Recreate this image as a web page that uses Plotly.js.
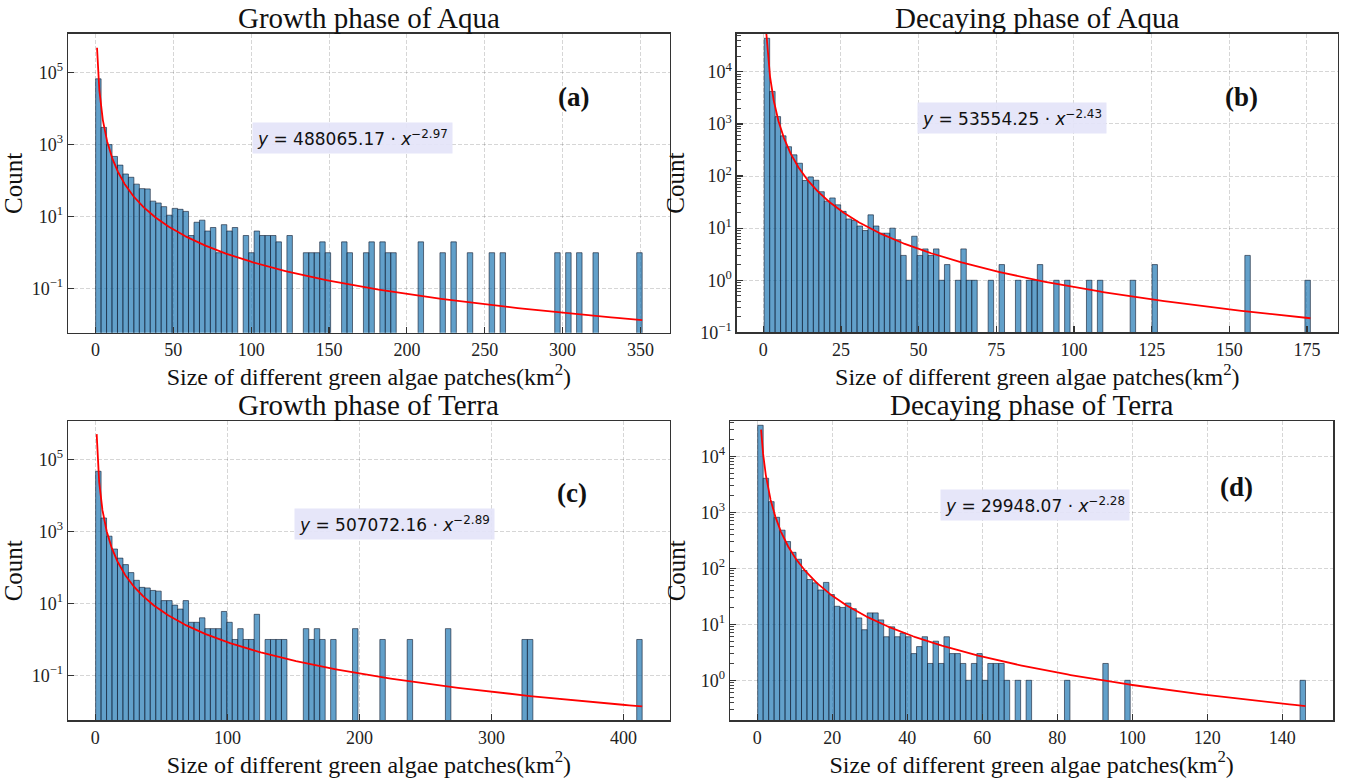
<!DOCTYPE html>
<html>
<head>
<meta charset="utf-8">
<script src="https://cdn.plot.ly/plotly-3.0.1.min.js"></script>
<style>
html,body{margin:0;padding:0;background:#fff;}
#chart{width:1346px;height:778px;}
</style>
</head>
<body>
<div id="chart"></div>
<script>
// ---------------- DATA ----------------
const panelTitles = ["Growth phase of Aqua", "Decaying phase of Aqua", "Growth phase of Terra", "Decaying phase of Terra"];
const panelLetters = ["(a)", "(b)", "(c)", "(d)"];
const xAxisLabel = "Size of different green algae patches(km<sup>2</sup>)";
const yAxisLabel = "Count";

// histogram bins (100 bins each): first edge and bin width, km²
const binStarts = [0.1, 0.3, 0.2, 0.1];
const binWidths = [3.51, 1.758, 4.14, 1.461];

// counts per bin
const countsA = [
  67000, 3000, 1000, 470, 270, 153, 124, 80, 60, 59,
  27, 24, 19, 11, 17, 16, 14, 3, 7, 8,
  4, 5, 1, 6, 4, 5, 0, 3, 1, 4,
  3, 3, 3, 2, 0, 3, 0, 0, 1, 1,
  1, 2, 1, 0, 0, 2, 1, 0, 0, 1,
  2, 0, 2, 1, 1, 0, 0, 0, 0, 2,
  0, 0, 0, 1, 0, 2, 0, 0, 1, 0,
  0, 0, 1, 0, 1, 0, 0, 0, 0, 0,
  0, 0, 0, 0, 1, 0, 1, 0, 1, 0,
  0, 1, 0, 0, 0, 0, 0, 0, 0, 1
];
const countsB = [
  44000, 4200, 1380, 590, 365, 255, 176, 82, 96, 83,
  50, 33, 38, 28, 21, 15, 14, 11, 9, 18,
  11, 8, 8, 10, 6, 3, 1, 7, 3, 4,
  3, 4, 1, 2, 0, 1, 4, 1, 1, 0,
  0, 1, 0, 2, 0, 0, 1, 0, 1, 1,
  2, 0, 0, 1, 0, 1, 0, 0, 0, 1,
  0, 1, 0, 0, 0, 0, 0, 1, 0, 0,
  0, 2, 0, 0, 0, 0, 0, 0, 0, 0,
  0, 0, 0, 0, 0, 0, 0, 0, 3, 0,
  0, 0, 0, 0, 0, 0, 0, 0, 0, 1
];
const countsC = [
  47000, 2370, 740, 325, 182, 120, 72, 44, 28, 27,
  23, 22, 12, 12, 9, 7, 12, 3, 3, 4,
  2, 2, 2, 6, 3, 1, 2, 1, 1, 5,
  0, 1, 1, 1, 1, 0, 0, 0, 2, 1,
  2, 1, 0, 1, 0, 0, 0, 2, 0, 0,
  0, 0, 1, 0, 0, 0, 0, 1, 0, 0,
  0, 0, 0, 0, 2, 0, 0, 0, 0, 0,
  0, 0, 0, 0, 0, 0, 0, 0, 1, 1,
  0, 0, 0, 0, 0, 0, 0, 0, 0, 0,
  0, 0, 0, 0, 0, 0, 0, 0, 0, 1
];
const countsD = [
  35800, 4050, 1550, 815, 480, 300, 193, 145, 91, 63,
  55, 41, 56, 34, 21, 20, 24, 19, 13, 8,
  16, 16, 12, 6, 9, 6, 7, 6, 3, 4,
  6, 2, 5, 2, 6, 3, 3, 2, 1, 2,
  3, 1, 2, 2, 2, 1, 0, 1, 0, 1,
  0, 0, 0, 0, 0, 0, 1, 0, 0, 0,
  0, 0, 0, 2, 0, 0, 0, 1, 0, 0,
  0, 0, 0, 0, 0, 0, 0, 0, 0, 0,
  0, 0, 0, 0, 0, 0, 0, 0, 0, 0,
  0, 0, 0, 0, 0, 0, 0, 0, 0, 1
];
const allCounts = [countsA, countsB, countsC, countsD];

// fitted power laws shown in the chart: y = coef * x^exp
const fitCoefs = [488065.17, 53554.25, 507072.16, 29948.07];
const fitExps = [-2.97, -2.43, -2.89, -2.28];
const fitStartX = 1;

// tick definitions
const xTickSteps = [50, 25, 100, 20];
const yTickExps = [[-1, 1, 3, 5], [-1, 0, 1, 2, 3, 4], [-1, 1, 3, 5], [0, 1, 2, 3, 4]];
const yMinorDecades = [null, [-1, 0, 1, 2, 3, 4], null, [-1, 0, 1, 2, 3, 4]];
const minorMultipliers = [2, 3, 4, 5, 6, 7, 8, 9];

// ---------------- GEOMETRY / STYLE ----------------
const W = 1346, H = 778;
const domains = [
  {x: [68.3 / W, 669.5 / W], y: [1 - 332.7 / H, 1 - 34 / H]},
  {x: [736.9 / W, 1337.7 / W], y: [1 - 332.4 / H, 1 - 34 / H]},
  {x: [68.3 / W, 669.5 / W], y: [1 - 720.3 / H, 1 - 421.3 / H]},
  {x: [730.3 / W, 1332.9 / W], y: [1 - 720.3 / H, 1 - 421.3 / H]}
];
const yRanges = [[-2.22, 6.07], [-1.0, 4.725], [-2.245, 6.06], [-0.714, 4.625]];
const letterPos = [[0.84, 0.79], [0.84, 0.79], [0.838, 0.76], [0.84, 0.78]];
const eqPos = [[0.472, 0.652], [0.458, 0.72], [0.542, 0.655], [0.506, 0.72]];

const serif = "Liberation Serif, Times New Roman, serif";
const barFill = "rgba(31,119,180,0.7)";
const barEdge = "rgba(15,25,45,0.75)";
const gridColor = "rgba(0,0,0,0.16)";
const gridDash = "4px,2px";

const traces = [];
const layout = {
  width: W, height: H,
  margin: {l: 0, r: 0, t: 0, b: 0},
  paper_bgcolor: "#ffffff",
  plot_bgcolor: "#ffffff",
  showlegend: false,
  bargap: 0,
  barmode: "overlay",
  font: {family: serif, color: "#111"},
  annotations: []
};

function supExp(e) {
  return "10<sup>" + (e < 0 ? "\u2212" + Math.abs(e) : String(e)) + "</sup>";
}

for (let p = 0; p < 4; p++) {
  const sfx = p === 0 ? "" : String(p + 1);
  const xa = "x" + sfx, ya = "y" + sfx;
  const counts = allCounts[p];
  const start = binStarts[p], bw = binWidths[p];
  const end = start + bw * counts.length;

  const centers = counts.map((c, i) => start + bw * (i + 0.5));
  traces.push({
    type: "bar",
    x: centers,
    y: counts.map(c => (c > 0 ? c : null)),
    width: counts.map(() => bw),
    xaxis: xa, yaxis: ya,
    marker: {color: barFill, line: {color: barEdge, width: 0.8}},
    hoverinfo: "x+y"
  });

  // fitted curve from the stated equation
  const fx = [], fy = [];
  const nPts = 500;
  for (let i = 0; i < nPts; i++) {
    const x = fitStartX * Math.pow(end / fitStartX, i / (nPts - 1));
    fx.push(x);
    fy.push(fitCoefs[p] * Math.pow(x, fitExps[p]));
  }
  traces.push({
    type: "scatter", mode: "lines",
    x: fx, y: fy, xaxis: xa, yaxis: ya,
    line: {color: "#ff0000", width: 1.8},
    hoverinfo: "skip"
  });

  const span = end - start;
  layout["xaxis" + sfx] = {
    domain: domains[p].x,
    anchor: ya,
    range: [start - 0.05 * span, end + 0.05 * span],
    tickmode: "linear", tick0: 0, dtick: xTickSteps[p],
    ticks: "inside", ticklen: 6, tickwidth: 1.2, tickcolor: "#333",
    showline: true, mirror: true, linecolor: "#333", linewidth: 1.6,
    showgrid: true, gridcolor: gridColor, griddash: gridDash, gridwidth: 1,
    zeroline: false,
    tickfont: {family: serif, size: 18, color: "#222"},
    title: {text: xAxisLabel, font: {family: serif, size: 24, color: "#111"}, standoff: 4}
  };
  const yax = {
    domain: domains[p].y,
    anchor: xa,
    type: "log",
    range: yRanges[p],
    tickmode: "array",
    tickvals: yTickExps[p].map(e => Math.pow(10, e)),
    ticktext: yTickExps[p].map(supExp),
    ticks: "inside", ticklen: 6, tickwidth: 1.2, tickcolor: "#333",
    showline: true, mirror: true, linecolor: "#333", linewidth: 1.6,
    showgrid: true, gridcolor: gridColor, griddash: gridDash, gridwidth: 1,
    zeroline: false,
    tickfont: {family: serif, size: 18, color: "#222"},
    title: {text: yAxisLabel, font: {family: serif, size: 25, color: "#111"}, standoff: 8}
  };
  if (yMinorDecades[p]) {
    const mv = [];
    yMinorDecades[p].forEach(d => minorMultipliers.forEach(m => mv.push(m * Math.pow(10, d))));
    yax.minor = {tickmode: "array", tickvals: mv, ticks: "inside", ticklen: 4, tickwidth: 1, tickcolor: "#444", showgrid: false};
  }
  layout["yaxis" + sfx] = yax;

  const xd = xa + " domain", yd = ya + " domain";
  // panel title
  layout.annotations.push({
    xref: xd, yref: yd, x: 0.5, y: 1, xanchor: "center", yanchor: "bottom",
    yshift: -2, showarrow: false,
    text: panelTitles[p],
    font: {family: serif, size: 29, color: "#111"}
  });
  // panel letter
  layout.annotations.push({
    xref: xd, yref: yd, x: letterPos[p][0], y: letterPos[p][1],
    xanchor: "center", yanchor: "middle", showarrow: false,
    text: "<b>" + panelLetters[p] + "</b>",
    font: {family: serif, size: 27, color: "#111"}
  });
  // equation box
  const expTxt = (fitExps[p] < 0 ? "\u2212" : "") + Math.abs(fitExps[p]).toFixed(2);
  layout.annotations.push({
    xref: xd, yref: yd, x: eqPos[p][0], y: eqPos[p][1],
    xanchor: "center", yanchor: "middle", showarrow: false,
    text: "<i>y</i> = " + fitCoefs[p].toFixed(2) + " \u00b7 <i>x</i><sup>" + expTxt + "</sup>",
    font: {family: "DejaVu Sans, sans-serif", size: 17, color: "#111"},
    bgcolor: "rgba(228,228,248,0.92)", borderpad: 4
  });
}

Plotly.newPlot("chart", traces, layout, {displayModeBar: false, staticPlot: true});
</script>
</body>
</html>
